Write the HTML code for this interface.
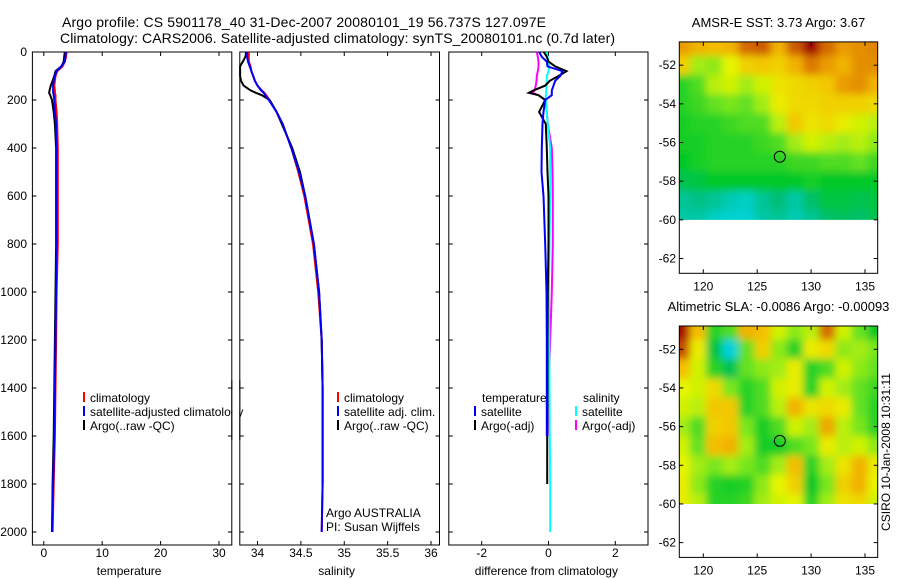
<!DOCTYPE html>
<html><head><meta charset="utf-8"><style>
html,body{margin:0;padding:0;background:#fff}
svg{display:block;font-family:"Liberation Sans",Arial,sans-serif}
</style></head><body>
<svg id="c" width="900" height="580" viewBox="0 0 900 580"></svg>
<script>
// ---------- data ----------
const depths = [0,20,40,60,80,100,120,140,160,170,180,200,250,300,400,500,600,800,1000,1200,1400,1600,1800,2000];
const tempClim = [3.9,3.8,3.6,3.2,2.3,2.0,1.9,1.8,1.9,1.9,2.0,2.0,2.2,2.3,2.4,2.4,2.4,2.4,2.2,2.1,2.0,1.9,1.7,1.5];
const tempSat  = [3.8,3.7,3.6,3.0,2.2,1.9,1.7,1.6,1.6,1.6,1.7,1.8,1.9,2.1,2.2,2.2,2.2,2.2,2.1,2.0,1.9,1.8,1.6,1.4];
const tempArgo = [3.6,3.5,3.4,3.0,2.0,1.8,1.5,1.2,1.0,0.9,1.1,1.4,1.7,1.9,2.1,2.1,2.1,2.1,2.0,1.9,1.8,1.7,1.5,1.4];
const salClim  = [33.9,33.9,33.9,33.92,33.93,33.95,33.97,34.0,34.05,34.08,34.1,34.14,34.22,34.29,34.39,34.47,34.54,34.64,34.70,34.74,34.75,34.75,34.75,34.74];
const salSat   = [33.88,33.88,33.89,33.91,33.93,33.95,33.97,34.0,34.04,34.07,34.09,34.13,34.22,34.29,34.39,34.48,34.55,34.65,34.71,34.74,34.75,34.75,34.75,34.74];
const salArgo  = [33.87,33.86,33.83,33.80,33.80,33.80,33.81,33.84,33.92,33.98,34.05,34.14,34.22,34.28,34.40,34.49,34.55,34.65,34.71,34.74,34.75,34.75,34.75,34.74];
const diffTSat  = [-0.28,-0.2,-0.05,-0.03,0.42,0.35,0.2,0.15,0.1,0.1,0.1,-0.1,-0.15,-0.18,-0.2,-0.21,-0.15,-0.1,-0.06,-0.05,-0.05,-0.05,-0.05,-0.05];
const diffTArgo = [-0.14,-0.05,0.0,0.2,0.54,0.3,0.04,-0.1,-0.45,-0.59,-0.3,-0.1,-0.28,-0.08,-0.05,-0.03,0.0,0.0,-0.02,-0.03,-0.03,-0.04,-0.04,-0.04];
const diffSSat  = [-0.05,-0.03,0.0,0.02,0.0,-0.05,-0.05,-0.06,-0.07,-0.07,-0.08,-0.08,-0.05,-0.02,0.05,0.05,0.05,0.03,0.01,0.02,0.03,0.04,0.05,0.05];
const diffSArgo = [-0.35,-0.32,-0.3,-0.3,-0.32,-0.35,-0.36,-0.38,-0.42,-0.48,-0.3,-0.09,-0.05,-0.02,0.1,0.12,0.13,0.13,0.1,0.05,0.0,-0.02,-0.03,-0.03];
const depthTicks = [0,200,400,600,800,1000,1200,1400,1600,1800,2000];
const tempTicks = [0,10,20,30];
const salTicks = [34,34.5,35,35.5,36];
const salTickLabels = ["34","34.5","35","35.5","36"];
const diffTicks = [-2,0,2];
const lonTicks = [120,125,130,135];
const latTicks = [-52,-54,-56,-58,-60,-62];
const gridLons = [118,119.5,121,122.5,124,125.5,127,128.5,130,131.5,133,134.5,136];
const gridLats = [-51,-52,-53,-54,-55,-56,-57,-58,-59,-60];
const sstGrid = [
[4.8,4.6,4.5,4.6,5.2,5.3,4.6,5.3,5.9,5.2,4.8,4.9,5.0],
[4.3,3.6,3.5,3.9,4.3,4.4,4.3,4.6,5.1,4.8,4.6,4.9,4.9],
[3.0,3.2,3.7,3.8,3.6,3.8,4.1,4.2,4.3,4.4,4.8,4.9,4.6],
[3.0,3.1,3.3,3.4,3.3,3.6,4.0,4.2,4.2,4.3,4.3,4.3,4.2],
[2.9,3.0,3.0,3.1,3.2,3.2,3.7,4.4,4.1,4.2,4.0,3.8,3.7],
[2.9,2.9,3.0,3.0,3.0,3.1,3.2,3.6,3.8,3.7,3.6,3.7,3.5],
[2.8,2.9,3.0,3.0,3.0,3.0,3.0,3.1,3.1,3.2,3.2,3.3,3.1],
[2.5,2.6,2.8,2.8,2.8,2.8,2.8,2.8,2.9,2.8,2.8,2.8,2.8],
[2.0,2.1,2.0,1.8,1.7,2.0,2.2,1.9,2.3,2.6,2.6,2.5,2.6],
[1.9,1.9,1.7,1.6,1.6,1.9,2.0,1.8,2.0,2.3,2.4,2.3,2.5]];
const slaGrid = [
[5.8,4.5,3.0,3.2,4.6,4.5,3.8,3.5,3.7,5.2,3.8,3.3,2.8],
[5.4,4.0,2.6,1.5,3.3,4.3,3.5,3.0,4.0,4.2,3.5,3.6,3.4],
[4.5,3.8,3.0,2.5,3.3,3.5,3.6,4.0,3.0,3.2,3.8,3.5,3.3],
[3.9,3.8,4.2,3.4,3.0,3.2,3.8,4.0,3.0,3.8,3.6,3.3,3.1],
[3.8,3.7,4.4,4.4,3.0,3.2,3.7,4.6,4.1,4.2,4.0,3.3,3.0],
[3.6,3.2,4.3,4.4,3.4,2.9,3.2,3.8,3.6,4.7,3.7,3.4,3.0],
[3.8,3.3,4.5,4.6,3.6,2.9,2.9,3.2,3.4,4.0,3.7,3.8,3.5],
[3.9,3.6,3.4,3.6,3.4,3.2,3.6,4.5,3.0,3.6,4.1,4.6,4.0],
[4.0,3.5,3.0,2.9,3.0,3.5,3.9,4.3,2.8,3.4,4.3,4.6,3.9],
[4.0,3.7,3.0,3.0,3.1,3.6,3.8,3.9,3.0,3.6,4.1,4.2,3.8]];
const argoLon = 127.097, argoLat = -56.737;

// ---------- helpers ----------
const NS="http://www.w3.org/2000/svg", svg=document.getElementById('c');
function mk(tag, attrs, parent){const e=document.createElementNS(NS,tag);for(const k in attrs)e.setAttribute(k,attrs[k]);(parent||svg).appendChild(e);return e;}
function txt(s,x,y,anchor,size,parent){const t=mk('text',{x:x,y:y,'text-anchor':anchor||'start','font-size':size||12,fill:'#000'},parent);t.textContent=s;return t;}
function lin(d0,d1,p0,p1){return v=>p0+(v-d0)*(p1-p0)/(d1-d0);}

const defs=mk('defs',{});
const flt=mk('filter',{id:'smooth',x:'-5%',y:'-5%',width:'110%',height:'110%'},defs);
mk('feGaussianBlur',{stdDeviation:'4',edgeMode:'duplicate'},flt);

const yTop=52, yBot=545, yD=lin(0,2000,52,532);
const panels=[
 {name:'temperature-panel',x0:32.4,x1:231.8,xs:lin(0,30,43.8,219),ticks:tempTicks,labels:tempTicks.map(String),xlabel:'temperature'},
 {name:'salinity-panel',x0:239.8,x1:439.5,xs:lin(34,36,257.5,431),ticks:salTicks,labels:salTickLabels,xlabel:'salinity'},
 {name:'difference-panel',x0:448.8,x1:648,xs:lin(-2,2,481.7,615.3),ticks:diffTicks,labels:diffTicks.map(String),xlabel:'difference from climatology'}];

function drawPanel(p,idx){
 const g=mk('g',{});
 
 
 const fr=mk('rect',{x:p.x0,y:yTop,width:p.x1-p.x0,height:yBot-yTop,fill:'none',stroke:'#000','stroke-width':1},g);
 
 
 p.ticks.forEach((t,i)=>{const x=p.xs(t);
  mk('line',{x1:x,x2:x,y1:yBot,y2:yBot-4,stroke:'#000'},g);
  mk('line',{x1:x,x2:x,y1:yTop,y2:yTop+4,stroke:'#000'},g);
  const l=txt(p.labels[i],x,557,'middle',12,g);
  
  
 });
 depthTicks.forEach(d=>{const y=yD(d);
  mk('line',{x1:p.x0,x2:p.x0+4,y1:y,y2:y,stroke:'#000'},g);
  mk('line',{x1:p.x1,x2:p.x1-4,y1:y,y2:y,stroke:'#000'},g);
  if(idx===0){const l=txt(String(d),27,y+4,'end',12,g);
   
   }
 });
 const xl=txt(p.xlabel,(p.x0+p.x1)/2+(idx===2?-2:-3),575,'middle',12,g);
 
 
 return g;
}
function series(p,vals,color,name,maxDepth){
 const pts=[];depths.forEach((d,i)=>{if(maxDepth===undefined||d<=maxDepth)pts.push(p.xs(vals[i]).toFixed(1)+','+yD(d).toFixed(1));});
 const pl=mk('polyline',{points:pts.join(' '),fill:'none',stroke:color,'stroke-width':2});
 
 
}
function legend(x,y,color,label,name){
 if(color)mk('line',{x1:x,x2:x,y1:y-10,y2:y,stroke:color,'stroke-width':2});
 const t=txt(label,x+6,y,'start',12);
 
 
}

panels.forEach(drawPanel);
const [P1,P2,P3]=panels;
series(P1,tempClim,'#f00','temperature-climatology-line');
series(P1,tempArgo,'#000','temperature-argo-line');
series(P1,tempSat,'#00f','temperature-satellite-line');
series(P2,salClim,'#f00','salinity-climatology-line');
series(P2,salArgo,'#000','salinity-argo-line',1800);
series(P2,salSat,'#00f','salinity-satellite-line');
series(P3,diffSArgo,'#f0f','salinity-argo-diff-line',1600);
series(P3,diffSSat,'#0ff','salinity-satellite-diff-line');
series(P3,diffTArgo,'#000','temperature-argo-diff-line',1800);
series(P3,diffTSat,'#00f','temperature-satellite-diff-line',1600);

legend(84,402,'#f00','climatology','legend-climatology');
legend(84,416,'#00f','satellite-adjusted climatology','legend-satellite-adjusted');
legend(84,430,'#000','Argo(..raw -QC)','legend-argo-raw');
legend(338,402,'#f00','climatology','legend-sal-climatology');
legend(338,416,'#00f','satellite adj. clim.','legend-sal-satellite');
legend(338,430,'#000','Argo(..raw -QC)','legend-sal-argo');
legend(476,402,null,'temperature','legend-temperature-header');
legend(475,416,'#00f','satellite','legend-diff-temp-satellite');
legend(475,430,'#000','Argo(-adj)','legend-diff-temp-argo');
legend(577,402,null,'salinity','legend-salinity-header');
legend(576,416,'#0ff','satellite','legend-diff-sal-satellite');
legend(576,430,'#f0f','Argo(-adj)','legend-diff-sal-argo');
mk('rect',{x:232.3,y:390,width:7,height:30,fill:'#fff'});
mk('line',{x1:231.8,x2:231.8,y1:380,y2:440,stroke:'#000'});
mk('line',{x1:239.8,x2:239.8,y1:380,y2:440,stroke:'#000'});
let t=txt('Argo AUSTRALIA',326,517,'start',12);
t=txt('PI: Susan Wijffels',326,531,'start',12);

t=txt('Argo profile: CS 5901178_40 31-Dec-2007 20080101_19 56.737S 127.097E',62,27,'start',14);
t.setAttribute('textLength','484');
t=txt('Climatology: CARS2006. Satellite-adjusted climatology: synTS_20080101.nc (0.7d later)',60,43,'start',14);
t.setAttribute('textLength','555');

// ---------- maps ----------
const cstops=[[1.0,[0,200,255]],[1.6,[0,210,210]],[2.2,[0,190,120]],[2.8,[0,200,40]],[3.4,[120,230,30]],[3.9,[230,245,0]],[4.5,[245,190,0]],[5.1,[220,120,0]],[5.9,[160,0,0]]];
function cmap(v){if(v<=cstops[0][0])return 'rgb('+cstops[0][1]+')';
 for(let i=1;i<cstops.length;i++){if(v<=cstops[i][0]){const a=cstops[i-1],b=cstops[i],f=(v-a[0])/(b[0]-a[0]);
  return 'rgb('+a[1].map((c,k)=>Math.round(c+(b[1][k]-c)*f)).join(',')+')';}}
 return 'rgb('+cstops[cstops.length-1][1]+')';}

function drawMap(name,title,top,grid){
 const x0=679.3,x1=877.7,yTopM=top,yBotM=top+231.4;
 const xs=lin(120,135,703.3,865), ys=lin(-52,-62,top+23.3,top+216.6);
 const g=mk('g',{});
 
 
 const clipId=name+'-clip';
 const cp=mk('clipPath',{id:clipId},g);
 mk('rect',{x:x0,y:yTopM,width:x1-x0,height:ys(-60)-yTopM},cp);
 const cg=mk('g',{'clip-path':'url(#'+clipId+')'},g);
 const bg=mk('g',{filter:'url(#smooth)'},cg);
 grid.forEach((row,r)=>row.forEach((v,c)=>{
  const lo=gridLons[c],la=gridLats[r];
  const ext=(la===-60)?1:0, extT=(la===-51)?1:0;
  const cell=mk('rect',{x:xs(lo-0.75)-(c===0?12:0),y:ys(la+0.5+extT),width:xs(lo+0.75)-xs(lo-0.75)+0.6+(c===0||c===row.length-1?12:0),height:ys(la-0.5-ext)-ys(la+0.5+extT)+0.6,fill:cmap(v)},bg);
  
  
 }));
 mk('rect',{x:x0,y:yTopM,width:x1-x0,height:yBotM-yTopM,fill:'none',stroke:'#000'},g);
 lonTicks.forEach(lo=>{const x=xs(lo);
  mk('line',{x1:x,x2:x,y1:yBotM,y2:yBotM-4,stroke:'#000'},g);
  mk('line',{x1:x,x2:x,y1:yTopM,y2:yTopM+4,stroke:'#000'},g);
  const l=txt(String(lo),x,yBotM+17,'middle',12,g);
  
  });
 latTicks.forEach(la=>{const y=ys(la);
  mk('line',{x1:x0,x2:x0+4,y1:y,y2:y,stroke:'#000'},g);
  mk('line',{x1:x1,x2:x1-4,y1:y,y2:y,stroke:'#000'},g);
  const l=txt(String(la),676,y+4,'end',12,g);
  
  });
 const c=mk('circle',{cx:xs(argoLon),cy:ys(argoLat),r:5.5,fill:'none',stroke:'#000'},g);
 
 
 const tt=txt(title,(x0+x1)/2,top-15,'middle',13,g);
 
 
}
drawMap('sst-map','AMSR-E SST: 3.73 Argo: 3.67',41.9,sstGrid);
drawMap('sla-map','Altimetric SLA: -0.0086 Argo: -0.00093',326,slaGrid);
t=txt('CSIRO 10-Jan-2008 10:31:11',0,0,'middle',12);
t.setAttribute('transform','translate(890,452) rotate(-90)');

</script>
</body></html>
